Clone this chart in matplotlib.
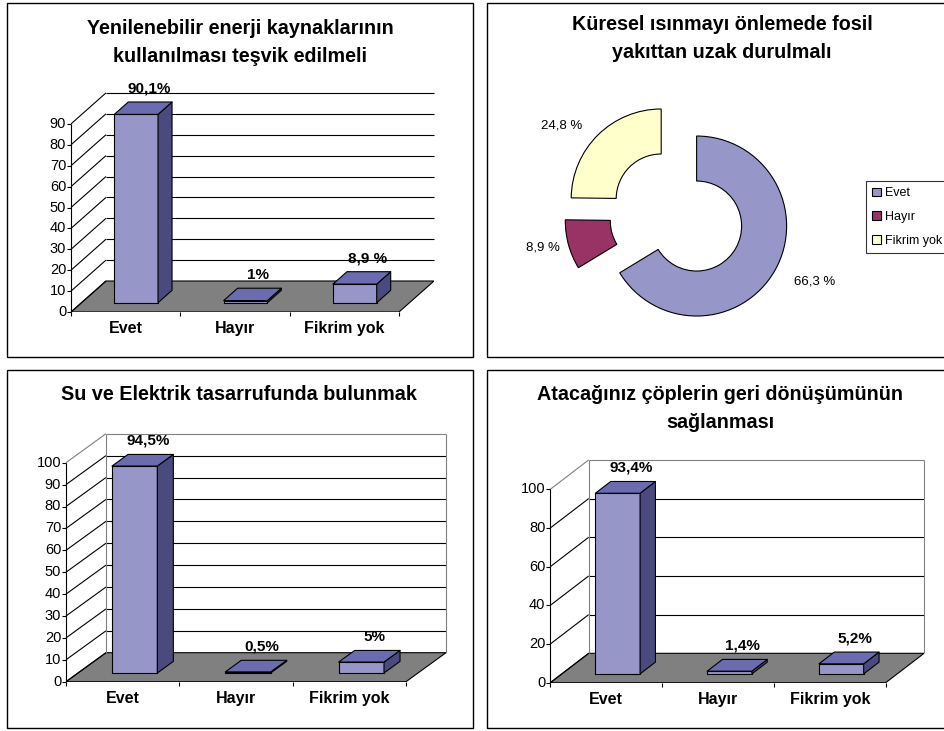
import matplotlib
matplotlib.use("Agg")
import matplotlib.pyplot as plt
from matplotlib.patches import Polygon, Rectangle

# canvas size in pixels (dpi = 100)
W, H = 945, 731

categories = ["Evet", "Hayır", "Fikrim yok"]

renew_title = "Yenilenebilir enerji kaynaklarının\nkullanılması teşvik edilmeli"
renew_vals = [90.1, 1.0, 8.9]
renew_labels = ["90,1%", "1%", "8,9 %"]
renew_ticks = [0, 10, 20, 30, 40, 50, 60, 70, 80, 90]

fossil_title = "Küresel ısınmayı önlemede fosil\nyakıttan uzak durulmalı"
fossil_vals = [66.3, 8.9, 24.8]
# where Excel put the percentage labels (pie units, centre = 0,0)
fossil_label_pos = [(1.53, -0.74), (-1.49, -0.36), (-1.28, 0.99)]

water_title = "Su ve Elektrik tasarrufunda bulunmak"
water_vals = [94.5, 0.5, 5.0]
water_labels = ["94,5%", "0,5%", "5%"]
water_ticks = [0, 10, 20, 30, 40, 50, 60, 70, 80, 90, 100]

recycle_title = "Atacağınız çöplerin geri dönüşümünün\nsağlanması"
recycle_vals = [93.4, 1.4, 5.2]
recycle_labels = ["93,4%", "1,4%", "5,2%"]
recycle_ticks = [0, 20, 40, 60, 80, 100]

FRONT = "#9696c8"
TOP = "#6b6bb0"
SIDE = "#4a4a7e"
FLOOR = "#808080"
PIE_COLORS = ["#9696c8", "#993366", "#ffffcc"]

plt.rcParams["font.family"] = ["Liberation Sans", "DejaVu Sans"]


def fig_rect(l, t, r, b):
    return [l / W, 1 - b / H, (r - l) / W, (b - t) / H]


def bar3d_panel(fig, values, texts, ticks, x0, x1, y0, ppu, dxp, dyp, boxed):
    """Excel style 3D column chart; geometry given in pixels."""
    ymax = ticks[-1]
    cw = (x1 - x0) / 3
    DX = dxp / cw
    DY = dyp / ppu
    ax = fig.add_axes(fig_rect(x0, y0 - ymax * ppu - dyp, x1 + dxp, y0))
    ax.set_xlim(0, 3 + DX)
    ax.set_ylim(0, ymax + DY)
    ax.axis("off")

    def P(x, y, z):
        return (x + z * DX, y + z * DY)

    def line(a, b, c="black"):
        ax.plot([a[0], b[0]], [a[1], b[1]], color=c, lw=0.8, clip_on=False,
                solid_capstyle="butt")

    # floor
    ax.add_patch(Polygon([P(0, 0, 0), P(3, 0, 0), P(3, 0, 1), P(0, 0, 1)],
                         closed=True, fc=FLOOR, ec="black", lw=0.8))
    # side wall diagonals + back gridlines
    grey = "#808080"
    for t in ticks:
        c = grey if (boxed and t == ymax) else "black"
        line(P(0, t, 0), P(0, t, 1), c)
        if t > 0:
            line(P(0, t, 1), P(3, t, 1), c)
    if boxed:
        line(P(0, 0, 1), P(0, ymax, 1), grey)
        line(P(3, 0, 1), P(3, ymax, 1), grey)

    # front axis, ticks, tick labels
    line((0, 0), (0, ymax))
    tl = 4 / cw
    for t in ticks:
        line((-tl, t), (0, t))
        ax.annotate(str(t), (0, t), xytext=(-3.5, 0), textcoords="offset points",
                    ha="right", va="center", fontsize=10.5)
    for i in range(4):
        line((i, 0), (i, -4 / ppu))
    for i, cat in enumerate(categories):
        ax.annotate(cat, (i + 0.5, 0), xytext=(0, -12), textcoords="offset points",
                    ha="center", va="center", fontsize=11.5, fontweight="bold")

    # bars
    z0, z1 = 0.3, 0.7
    for i, (v, txt) in enumerate(zip(values, texts)):
        a, b = i + 0.3, i + 0.7
        front = [P(a, 0, z0), P(b, 0, z0), P(b, v, z0), P(a, v, z0)]
        top = [P(a, v, z0), P(b, v, z0), P(b, v, z1), P(a, v, z1)]
        side = [P(b, 0, z0), P(b, 0, z1), P(b, v, z1), P(b, v, z0)]
        for pts, col in ((front, FRONT), (side, SIDE), (top, TOP)):
            ax.add_patch(Polygon(pts, closed=True, fc=col, ec="black", lw=0.8,
                                 zorder=3, joinstyle="round"))
        ax.annotate(txt, P(i + 0.5, v, 0.5), xytext=(4, 14),
                    textcoords="offset points", ha="center", va="center",
                    fontsize=11, fontweight="bold", zorder=4)
    return ax


fig = plt.figure(figsize=(W / 100, H / 100), dpi=100)

# panel frames
for l, t, r, b in ((7, 3, 473, 357), (487, 3, 960, 357),
                   (7, 370, 473, 728), (487, 370, 960, 728)):
    fig.add_artist(Rectangle((l / W, 1 - b / H), (r - l) / W, (b - t) / H,
                             transform=fig.transFigure, fill=False,
                             ec="black", lw=1))

# titles
title_kw = dict(ha="center", va="center", fontsize=14.2, fontweight="bold",
                linespacing=1.6)
fig.text(240 / W, 1 - 42.5 / H, renew_title, **title_kw)
fig.text(722 / W, 1 - 39 / H, fossil_title, **title_kw)
fig.text(239 / W, 1 - 395 / H, water_title, **title_kw)
fig.text(720 / W, 1 - 409 / H, recycle_title, **title_kw)

# bar panels
bar3d_panel(fig, renew_vals, renew_labels, renew_ticks,
            71, 399, 312, 2.09, 35, 31, False)
bar3d_panel(fig, water_vals, water_labels, water_ticks,
            66, 406, 681.7, 2.19, 40, 29, True)
bar3d_panel(fig, recycle_vals, recycle_labels, recycle_ticks,
            550.3, 885.7, 682.7, 1.934, 38.4, 29.4, True)

# donut panel
R = 90  # outer radius in px
half = 160
axp = fig.add_axes(fig_rect(677 - half, 215 - half, 677 + half, 215 + half))
wedges, _, autotexts = axp.pie(
    fossil_vals, colors=PIE_COLORS, startangle=90, counterclock=False,
    explode=[0.25] * 3, radius=1,
    autopct=lambda p: f"{p:.1f} %".replace(".", ","), pctdistance=1.38,
    wedgeprops=dict(width=0.5, edgecolor="black", linewidth=0.8),
    textprops=dict(fontsize=9.5))
for txt, pos in zip(autotexts, fossil_label_pos):
    txt.set_position(pos)
axp.set_xlim(-half / R, half / R)
axp.set_ylim(-half / R, half / R)
axp.axis("off")

leg = fig.legend(wedges, categories, loc="upper left",
                 bbox_to_anchor=(866 / W, 1 - 181 / H), frameon=True,
                 fancybox=False, edgecolor="black", fontsize=9,
                 handlelength=0.7, handleheight=0.7, handletextpad=0.3,
                 labelspacing=0.95, borderpad=0.5, borderaxespad=0)
leg.get_frame().set_linewidth(0.8)
for h in leg.legend_handles:
    h.set_linewidth(0.8)

fig.savefig("out.png", dpi=100)
